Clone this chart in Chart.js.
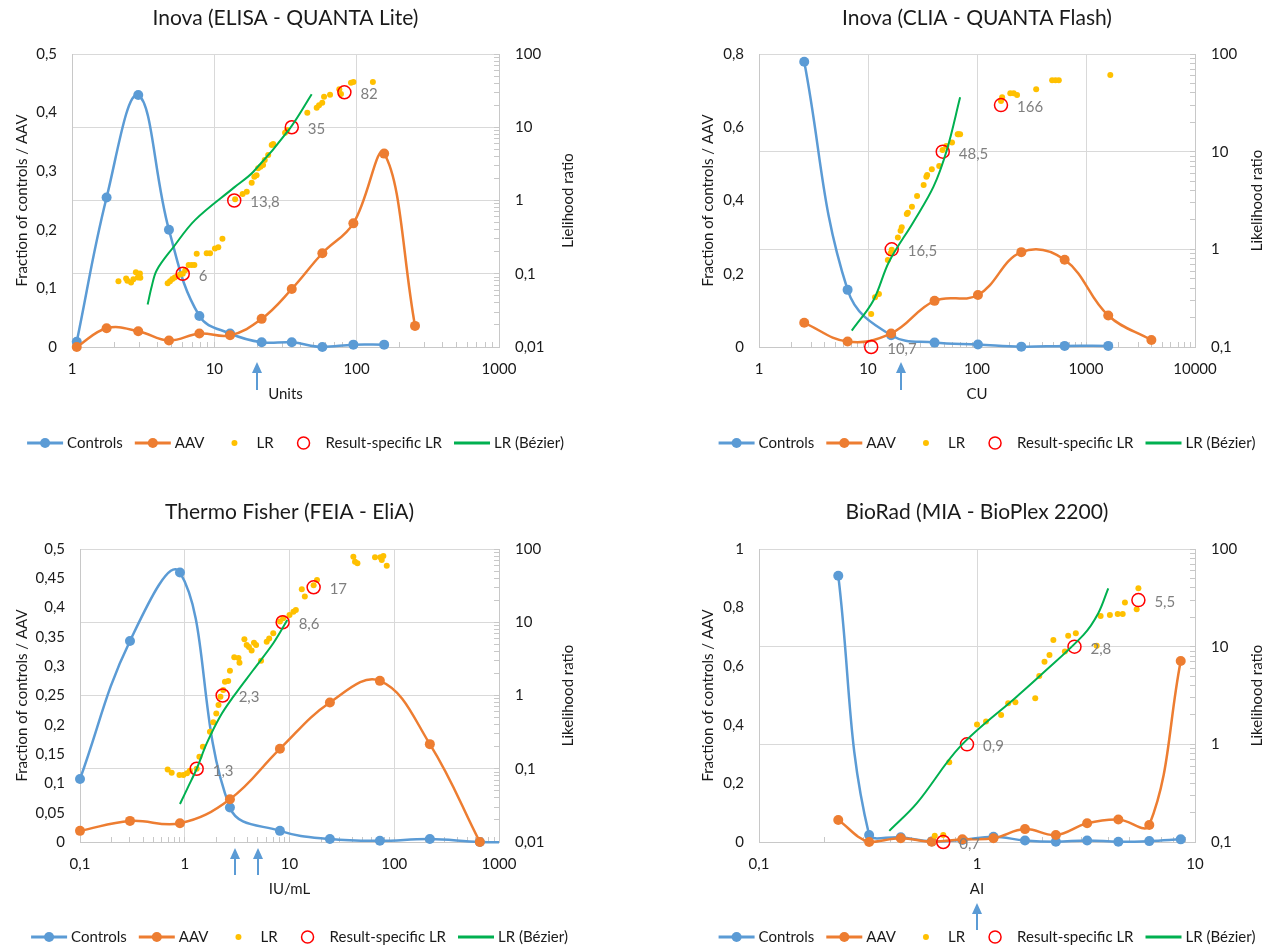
<!DOCTYPE html>
<html>
<head>
<meta charset="utf-8">
<script src="https://cdn.jsdelivr.net/npm/chart.js@4.4.1/dist/chart.umd.min.js"></script>
<style>
  html, body { margin: 0; padding: 0; background: #fff; }
  #wrap { position: relative; width: 1271px; height: 947px; }
  canvas { position: absolute; }
</style>
</head>
<body>
<div id="wrap">
  <canvas id="c1" width="635" height="473" style="left:0;top:0"></canvas>
  <canvas id="c2" width="636" height="473" style="left:635px;top:0"></canvas>
  <canvas id="c3" width="635" height="474" style="left:0;top:473px"></canvas>
  <canvas id="c4" width="636" height="474" style="left:635px;top:473px"></canvas>
</div>
<script>
// legend entries (same for all panels)
const legendLabels = ['Controls', 'AAV', 'LR', 'Result-specific LR', 'LR (Bézier)'];

// ---- Panel 1: Inova (ELISA - QUANTA Lite)
const ctlX1 = [1.08, 1.75, 2.92, 4.8, 7.85, 12.9, 21.5, 35, 57.4, 94.8, 156];
const ctl1 = [0.009, 0.255, 0.43, 0.2, 0.053, 0.023, 0.008, 0.008, 0.0, 0.004, 0.004];
const aavX1 = [1.08, 1.75, 2.92, 4.8, 7.85, 12.9, 21.5, 35, 57.4, 94.8, 156, 257];
const aav1 = [0, 0.032, 0.027, 0.011, 0.023, 0.020, 0.048, 0.099, 0.16, 0.211, 0.33, 0.036];
const lrX1 = [2.12, 2.40, 2.45, 2.60, 2.70, 2.81, 2.90, 3.00, 3.02, 4.70, 4.88, 5.07, 5.27, 5.50, 5.74, 6.0, 6.25, 6.6, 6.93, 7.24, 7.52, 8.84, 9.33, 10.1, 10.66, 11.4,
  14.0, 15.8, 16.9, 18.3, 19.1, 19.8, 20.3, 21.1, 22.0, 22.6, 23.9, 25.3, 25.9, 31.4, 32.5, 45, 52.4, 54.4, 57.3, 59, 65, 75.5, 77.6, 91.2, 94.9, 130];
const lrY1 = [0.079, 0.086, 0.080, 0.076, 0.084, 0.105, 0.089, 0.101, 0.088, 0.074, 0.079, 0.085, 0.089, 0.093, 0.098, 0.1, 0.112, 0.132, 0.132, 0.132, 0.188, 0.19, 0.19, 0.222, 0.23, 0.30,
  1.04, 1.23, 1.32, 1.75, 2.11, 2.22, 2.75, 2.88, 3.05, 3.57, 4.18, 5.72, 5.9, 8.43, 9.17, 15.8, 18.5, 19.9, 21.6, 26.1, 27.8, 33, 28.4, 40.6, 41.5, 41.5];
const resX1 = [6, 13.8, 35, 82];
const resLR1 = [0.1, 1, 10, 30];
const bezX1 = [3.40, 3.63, 3.94, 5.15, 7.31, 13.8, 18.8, 34, 48.3];
const bezY1 = [0.038, 0.067, 0.112, 0.23, 0.54, 1.51, 2.47, 9.68, 28.2];
const cut1 = [20];
const xDec1 = [1, 10, 100, 1000];
const yTicks1 = [0, 0.1, 0.2, 0.3, 0.4, 0.5];
const rDec1 = [0.01, 0.1, 1, 10, 100];

// ---- Panel 2: Inova (CLIA - QUANTA Flash)
const ctlX2 = [2.6, 6.5, 16.3, 40.8, 102, 255, 637, 1600];
const ctl2 = [0.779, 0.156, 0.032, 0.012, 0.007, 0.001, 0.003, 0.003];
const aavX2 = [2.6, 6.5, 16.3, 40.8, 102, 255, 637, 1600, 3980];
const aav2 = [0.066, 0.015, 0.037, 0.126, 0.142, 0.259, 0.238, 0.086, 0.019];
const lrX2 = [10.7, 11.6, 12.6, 15.2, 16.1, 16.5, 18.8, 19.9, 20.4, 22.7, 23.2, 25.3, 28.2, 32.4, 34.3, 34.9, 38.5, 45, 48.3, 52.3, 59, 66.5, 67.6, 70,
  166, 170, 202, 217, 233, 349, 489, 525, 563, 1671];
const lrY2 = [0.218, 0.323, 0.349, 0.778, 0.91, 0.99, 1.32, 1.55, 1.68, 2.30, 2.37, 2.73, 3.52, 4.56, 5.54, 5.77, 6.6, 7.13, 10.4, 11.4, 12.4, 15.1, 15.1, 15.1,
  33, 36, 39.6, 39.6, 38, 43.5, 54, 54, 54, 61];
const resX2 = [10.7, 16.5, 48.5, 166];
const resLR2 = [0.1, 1, 10, 30];
const bezX2 = [7.1, 11.2, 15.6, 26.2, 39.9, 52.9, 70];
const bezY2 = [0.147, 0.30, 0.746, 1.92, 4.38, 10.4, 36];
const cut2 = [20];
const xDec2 = [1, 10, 100, 1000, 10000];
const yTicks2 = [0, 0.2, 0.4, 0.6, 0.8];
const rDec2 = [0.1, 1, 10, 100];

// ---- Panel 3: Thermo Fisher (FEIA - EliA)
const ctlX3 = [0.1, 0.3, 0.9, 2.7, 8.1, 24.3, 72.9, 218.7, 656.1, 1968.3];
const ctl3 = [0.1075, 0.343, 0.46, 0.059, 0.019, 0.005, 0.002, 0.005, 0.0, 0.0];
const aavX3 = [0.1, 0.3, 0.9, 2.7, 8.1, 24.3, 72.9, 218.7, 656.1];
const aav3 = [0.019, 0.036, 0.032, 0.073, 0.159, 0.238, 0.275, 0.167, 0.0];
const lrX3 = [0.687, 0.75, 0.89, 0.97, 1.05, 1.12, 1.3, 1.38, 1.49, 1.74, 1.87, 2.0, 2.10, 2.19, 2.33, 2.42, 2.6, 2.70, 2.97, 3.26, 3.33, 3.71, 3.9, 4.1,
  4.35, 4.58, 4.8, 5.35, 6.06, 6.4, 7.0, 8.1, 8.7, 10.0, 10.9, 11.5, 13.1, 14.0, 17.0, 18.3, 40.7, 42.2, 44.5, 65.5, 73.7, 76, 78.7, 84.8];
const lrY3 = [0.098, 0.088, 0.082, 0.082, 0.087, 0.094, 0.1, 0.146, 0.2, 0.32, 0.43, 0.57, 0.74, 0.96, 1.19, 1.54, 1.58, 2.18, 3.32, 3.24, 2.8, 5.85, 4.9, 4.6,
  4.1, 5.25, 4.9, 2.98, 5.43, 6.0, 7.06, 10.2, 11.3, 12.6, 13.9, 14.7, 28.2, 22.4, 32, 37.8, 78.5, 67, 63.8, 77, 77, 70.8, 80, 59];
const resX3 = [1.3, 2.3, 8.6, 17];
const resLR3 = [0.1, 1, 10, 30];
const bezX3 = [0.9, 1.08, 1.3, 1.62, 2.17, 2.91, 4.51, 7.0, 9.53];
const bezY3 = [0.033, 0.057, 0.1, 0.222, 0.514, 0.964, 2.23, 5.16, 10.7];
const cut3 = [3, 5];
const xDec3 = [0.1, 1, 10, 100, 1000];
const yTicks3 = [0, 0.05, 0.1, 0.15, 0.2, 0.25, 0.3, 0.35, 0.4, 0.45, 0.5];
const rDec3 = [0.01, 0.1, 1, 10, 100];

// ---- Panel 4: BioRad (MIA - BioPlex 2200)
const xs4 = [0.231, 0.32, 0.447, 0.62, 0.857, 1.19, 1.66, 2.30, 3.2, 4.45, 6.17, 8.6];
const ctl4 = [0.909, 0.024, 0.016, 0.002, 0.007, 0.018, 0.005, 0.001, 0.005, 0.001, 0.003, 0.009];
const aav4 = [0.075, 0, 0.013, 0.001, 0.009, 0.013, 0.044, 0.024, 0.064, 0.077, 0.058, 0.618];
const lrX4 = [0.64, 0.70, 0.746, 1.0, 1.1, 1.29, 1.39, 1.5, 1.85, 1.93, 2.04, 2.15, 2.24, 2.53, 2.62, 2.84, 3.54, 3.69, 4.07, 4.42, 4.66, 4.77, 5.4, 5.5];
const lrY4 = [0.116, 0.118, 0.655, 1.6, 1.71, 2.0, 2.63, 2.7, 2.96, 5.0, 7.0, 8.2, 11.7, 8.9, 12.9, 13.7, 10.2, 20.6, 21.1, 21.6, 21.6, 28.4, 24.2, 39.6];
const resX4 = [0.7, 0.9, 2.8, 5.5];
const resLR4 = [0.1, 1, 10, 30];
const bezX4 = [0.396, 0.53, 0.836, 1.52, 1.94, 3.08, 3.6, 4.0];
const bezY4 = [0.13, 0.25, 0.946, 3.07, 5.0, 13.2, 22, 39.6];
const cut4 = [1];
const xDec4 = [0.1, 1, 10];
const yTicks4 = [0, 0.2, 0.4, 0.6, 0.8, 1];
const rDec4 = [0.1, 1, 10, 100];

const panels = [
  { id: 'c1', title: 'Inova (ELISA - QUANTA Lite)', xTitle: 'Units', rTitle: 'Lielihood ratio',
    ctlX: ctlX1, ctl: ctl1, aavX: aavX1, aav: aav1, lrX: lrX1, lrY: lrY1, resX: resX1, resLR: resLR1, bezX: bezX1, bezY: bezY1, cut: cut1,
    xDec: xDec1, yTicks: yTicks1, rDec: rDec1,
    box: { L: 72, R: 499, T: 54, B: 347, titleY: 18, legendY: 443, leftTitleX: 22, rightTitleX: 568, arrowTop: 15, arrowBottom: 43 } },
  { id: 'c2', title: 'Inova (CLIA - QUANTA Flash)', xTitle: 'CU', rTitle: 'Likelihood ratio',
    ctlX: ctlX2, ctl: ctl2, aavX: aavX2, aav: aav2, lrX: lrX2, lrY: lrY2, resX: resX2, resLR: resLR2, bezX: bezX2, bezY: bezY2, cut: cut2,
    xDec: xDec2, yTicks: yTicks2, rDec: rDec2,
    box: { L: 124, R: 560, T: 54, B: 347, titleY: 18, legendY: 443, leftTitleX: 73, rightTitleX: 622, arrowTop: 15, arrowBottom: 43 } },
  { id: 'c3', title: 'Thermo Fisher (FEIA - EliA)', xTitle: 'IU/mL', rTitle: 'Likelihood ratio',
    ctlX: ctlX3, ctl: ctl3, aavX: aavX3, aav: aav3, lrX: lrX3, lrY: lrY3, resX: resX3, resLR: resLR3, bezX: bezX3, bezY: bezY3, cut: cut3,
    xDec: xDec3, yTicks: yTicks3, rDec: rDec3,
    box: { L: 80, R: 499, T: 76, B: 369, titleY: 39, legendY: 464, leftTitleX: 22, rightTitleX: 568, arrowTop: 6, arrowBottom: 33 } },
  { id: 'c4', title: 'BioRad (MIA - BioPlex 2200)', xTitle: 'AI', rTitle: 'Likelihood ratio',
    ctlX: xs4, ctl: ctl4, aavX: xs4, aav: aav4, lrX: lrX4, lrY: lrY4, resX: resX4, resLR: resLR4, bezX: bezX4, bezY: bezY4, cut: cut4,
    xDec: xDec4, yTicks: yTicks4, rDec: rDec4,
    box: { L: 124, R: 560, T: 76, B: 369, titleY: 39, legendY: 464, leftTitleX: 73, rightTitleX: 622, arrowTop: 61, arrowBottom: 88 } }
];

const BLUE = '#5B9BD5', ORANGE = '#ED7D31', GOLD = '#FFC000', RED = '#FF0000', GREEN = '#00B050';
const TXT = '#1a1a1a', GRID = '#D9D9D9', AXIS = '#C8C8C8', CLEAR = 'rgba(0,0,0,0)';
const FONT = 'Lato';

const zip = (xs, ys) => xs.map((x, i) => ({ x: x, y: ys[i] }));
const fmt = v => String(parseFloat(v.toPrecision(8))).replace('.', ',');
const isIn = (v, arr) => arr.some(d => Math.abs(v / d - 1) < 1e-6);
function withMinors(decs) {
  const out = [];
  for (let i = 0; i < decs.length - 1; i++) {
    for (let k = 1; k < 10; k++) out.push(decs[i] * k);
  }
  out.push(decs[decs.length - 1]);
  return out;
}

function makeChart(p) {
  const cv = document.getElementById(p.id);
  const W = cv.width, H = cv.height, b = p.box;
  const clip = { left: false, top: false, right: 0, bottom: false };

  const deco = {
    id: 'deco',
    afterDraw(chart) {
      const ctx = chart.ctx, ca = chart.chartArea;
      const xs = chart.scales.x, yr = chart.scales.yR;
      const cx = (ca.left + ca.right) / 2, cy = (ca.top + ca.bottom) / 2;
      ctx.save();
      ctx.textBaseline = 'middle';
      ctx.textAlign = 'center';
      ctx.fillStyle = TXT;
      ctx.font = '21px ' + FONT;
      ctx.fillText(p.title, cx, b.titleY);
      ctx.font = '15px ' + FONT;
      ctx.fillText(p.xTitle, cx, ca.bottom + 47);
      [['Fraction of controls / AAV', b.leftTitleX], [p.rTitle, b.rightTitleX]].forEach(([t, x]) => {
        ctx.save();
        ctx.translate(x, cy);
        ctx.rotate(-Math.PI / 2);
        ctx.fillText(t, 0, 0);
        ctx.restore();
      });

      // labels next to the result-specific LR circles
      ctx.fillStyle = '#7F7F7F';
      ctx.textAlign = 'left';
      p.resX.forEach((v, i) => {
        ctx.fillText(fmt(v), xs.getPixelForValue(v) + 16, yr.getPixelForValue(p.resLR[i]) + 2);
      });

      // cut-off arrows
      ctx.strokeStyle = BLUE;
      ctx.fillStyle = BLUE;
      ctx.lineWidth = 2;
      p.cut.forEach(v => {
        const x = Math.round(xs.getPixelForValue(v));
        const t = ca.bottom + b.arrowTop, e = ca.bottom + b.arrowBottom;
        ctx.beginPath(); ctx.moveTo(x, t + 8); ctx.lineTo(x, e); ctx.stroke();
        ctx.beginPath(); ctx.moveTo(x, t); ctx.lineTo(x - 5, t + 11); ctx.lineTo(x + 5, t + 11); ctx.closePath(); ctx.fill();
      });

      // legend
      ctx.font = '15px ' + FONT;
      const sym = 36, gap = 4, sep = 12;
      const widths = legendLabels.map(t => sym + gap + ctx.measureText(t).width);
      const total = widths.reduce((a, c) => a + c, 0) + sep * (widths.length - 1);
      let x = cx + 10 - total / 2;
      const y = b.legendY;
      legendLabels.forEach((t, i) => {
        const mid = x + sym / 2;
        if (i < 2 || i === 4) {
          const col = [BLUE, ORANGE, 0, 0, GREEN][i];
          ctx.strokeStyle = col;
          ctx.lineWidth = 3;
          ctx.beginPath(); ctx.moveTo(x, y); ctx.lineTo(x + sym, y); ctx.stroke();
          if (i < 2) {
            ctx.fillStyle = col;
            ctx.beginPath(); ctx.arc(mid, y, 5, 0, Math.PI * 2); ctx.fill();
          }
        } else if (i === 2) {
          ctx.fillStyle = GOLD;
          ctx.beginPath(); ctx.arc(mid, y, 3, 0, Math.PI * 2); ctx.fill();
        } else {
          ctx.strokeStyle = RED;
          ctx.lineWidth = 1.5;
          ctx.beginPath(); ctx.arc(mid, y, 6, 0, Math.PI * 2); ctx.stroke();
        }
        ctx.fillStyle = TXT;
        ctx.fillText(t, x + sym + gap, y);
        x += widths[i] + sep;
      });
      ctx.restore();
    }
  };

  const tickFont = { family: FONT, size: 15 };

  return new Chart(cv, {
    type: 'line',
    data: {
      datasets: [
        { label: 'Controls', data: zip(p.ctlX, p.ctl), yAxisID: 'yL', borderColor: BLUE, backgroundColor: BLUE,
          pointRadius: 5, pointBorderWidth: 0, borderWidth: 2.5, tension: 0.4, order: 5, clip: clip },
        { label: 'AAV', data: zip(p.aavX, p.aav), yAxisID: 'yL', borderColor: ORANGE, backgroundColor: ORANGE,
          pointRadius: 5, pointBorderWidth: 0, borderWidth: 2.5, tension: 0.4, order: 4, clip: clip },
        { label: 'LR', data: zip(p.lrX, p.lrY), yAxisID: 'yR', showLine: false, pointRadius: 3, pointBorderWidth: 0,
          backgroundColor: GOLD, borderColor: GOLD, order: 3, clip: clip },
        { label: 'Result-specific LR', data: zip(p.resX, p.resLR), yAxisID: 'yR', showLine: false, pointRadius: 6.5,
          pointBorderWidth: 1.5, backgroundColor: CLEAR, borderColor: RED, order: 2, clip: clip },
        { label: 'LR (Bézier)', data: zip(p.bezX, p.bezY), yAxisID: 'yR', pointRadius: 0, borderColor: GREEN,
          backgroundColor: GREEN, borderWidth: 2, tension: 0.35, order: 1, clip: clip }
      ]
    },
    options: {
      responsive: false,
      animation: false,
      events: [],
      layout: { padding: { top: b.T, left: 0, right: 0, bottom: 0 } },
      plugins: { legend: { display: false }, title: { display: false }, tooltip: { enabled: false } },
      scales: {
        x: {
          type: 'logarithmic', position: 'bottom',
          min: p.xDec[0], max: p.xDec[p.xDec.length - 1],
          afterBuildTicks: s => { s.ticks = withMinors(p.xDec).map(v => ({ value: v })); },
          afterFit: s => { s.height = H - b.B; },
          grid: {
            color: c => (c.tick && isIn(c.tick.value, p.xDec)) ? GRID : CLEAR,
            tickColor: AXIS, tickLength: -5, lineWidth: 1
          },
          border: { color: AXIS, width: 1 },
          ticks: { autoSkip: false, maxRotation: 0, minRotation: 0, padding: 18, color: TXT, font: tickFont,
            callback: v => isIn(v, p.xDec) ? fmt(v) : '' }
        },
        yL: {
          type: 'linear', position: 'left',
          min: p.yTicks[0], max: p.yTicks[p.yTicks.length - 1],
          afterBuildTicks: s => { s.ticks = p.yTicks.map(v => ({ value: v })); },
          afterFit: s => { s.width = b.L; },
          grid: { drawOnChartArea: false, drawTicks: false },
          border: { color: AXIS, width: 1 },
          ticks: { padding: 15, color: TXT, font: tickFont, callback: v => fmt(v) }
        },
        yR: {
          type: 'logarithmic', position: 'right',
          min: p.rDec[0], max: p.rDec[p.rDec.length - 1],
          afterBuildTicks: s => { s.ticks = withMinors(p.rDec).map(v => ({ value: v })); },
          afterFit: s => { s.width = W - b.R; },
          grid: {
            color: c => (c.tick && isIn(c.tick.value, p.rDec)) ? GRID : CLEAR,
            tickColor: AXIS, tickLength: -5, lineWidth: 1
          },
          border: { color: AXIS, width: 1 },
          ticks: { autoSkip: false, padding: 21, color: TXT, font: tickFont,
            callback: v => isIn(v, p.rDec) ? fmt(v) : '' }
        }
      }
    },
    plugins: [deco]
  });
}

Promise.all([document.fonts.load('15px Lato'), document.fonts.load('21px Lato')])
  .catch(() => null)
  .then(() => panels.forEach(makeChart));
</script>
</body>
</html>
